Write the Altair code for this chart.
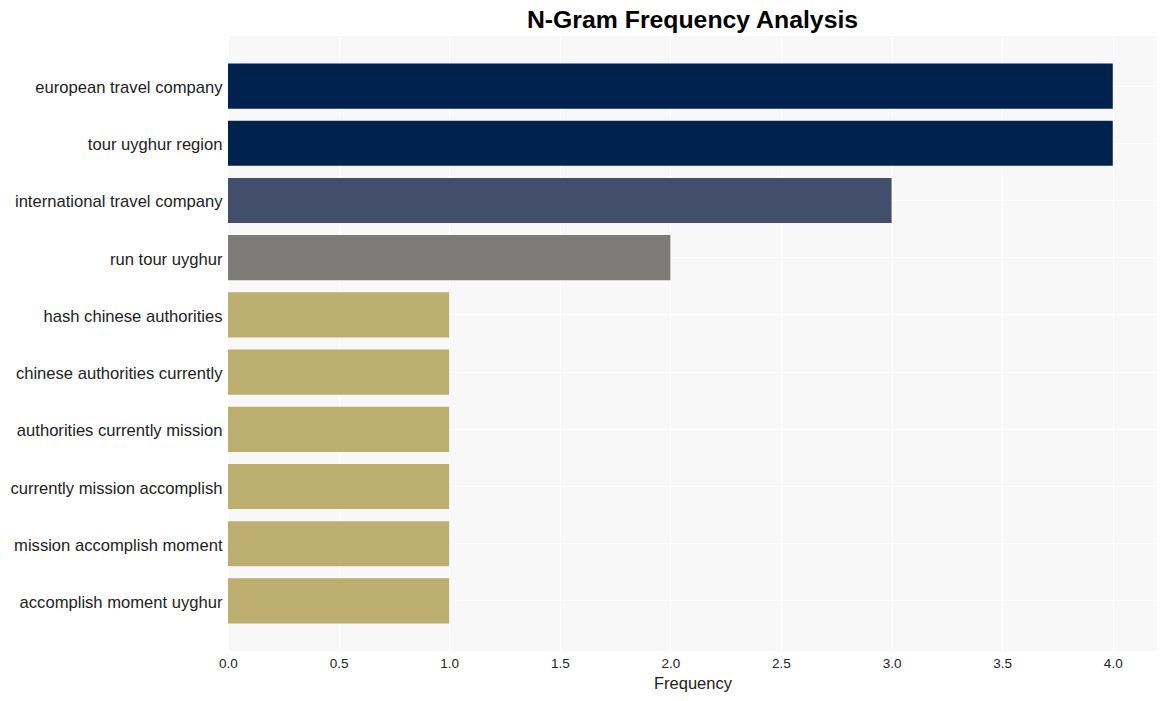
import altair as alt
import pandas as pd

ngrams = [
    "european travel company",
    "tour uyghur region",
    "international travel company",
    "run tour uyghur",
    "hash chinese authorities",
    "chinese authorities currently",
    "authorities currently mission",
    "currently mission accomplish",
    "mission accomplish moment",
    "accomplish moment uyghur",
]
freqs = [4, 4, 3, 2, 1, 1, 1, 1, 1, 1]
color_levels = [1, 2, 3, 4]
color_values = ["#bcae6e", "#7c7b78", "#434e6c", "#00224e"]
x_ticks = [0.0, 0.5, 1.0, 1.5, 2.0, 2.5, 3.0, 3.5, 4.0]

df = pd.DataFrame({"ngram": ngrams, "freq": freqs})

FONT = "Liberation Sans"

chart = (
    alt.Chart(df)
    .mark_bar()
    .encode(
        x=alt.X(
            "freq:Q",
            title="Frequency",
            scale=alt.Scale(domain=[0, 4.2], nice=False, zero=True),
            axis=alt.Axis(
                values=x_ticks,
                format=".1f",
                grid=True,
                gridColor="white",
                gridWidth=1,
                domain=False,
                ticks=False,
                labelFlush=False,
                labelFontSize=13.5,
                labelPadding=5,
                labelFont=FONT,
                labelColor="#222222",
                titleFont=FONT,
                titleFontSize=16.5,
                titleFontWeight="normal",
                titleColor="#222222",
                titlePadding=6,
            ),
        ),
        y=alt.Y(
            "ngram:N",
            sort=None,
            title=None,
            scale=alt.Scale(paddingInner=0.21, paddingOuter=0.48),
            axis=alt.Axis(
                grid=True,
                gridColor="white",
                gridWidth=1,
                bandPosition=0.5,
                domain=False,
                ticks=False,
                labelFontSize=16.6,
                labelFont=FONT,
                labelColor="#222222",
                labelPadding=6,
                labelOffset=2,
                labelLimit=400,
            ),
        ),
        color=alt.Color(
            "freq:O",
            scale=alt.Scale(domain=color_levels, range=color_values),
            legend=None,
        ),
    )
    .properties(
        width=929,
        height=615,
        title=alt.TitleParams(
            "N-Gram Frequency Analysis",
            fontSize=24.8,
            fontWeight="bold",
            font=FONT,
            color="#000000",
            anchor="middle",
            offset=3,
        ),
        autosize=alt.AutoSizeParams(type="none"),
        padding={"left": 228, "top": 36, "right": 10, "bottom": 50},
        background="white",
    )
    .configure_view(fill="#f8f8f8", stroke=None)
)

chart.save("out.html", embed_options={"renderer": "svg", "actions": False})
